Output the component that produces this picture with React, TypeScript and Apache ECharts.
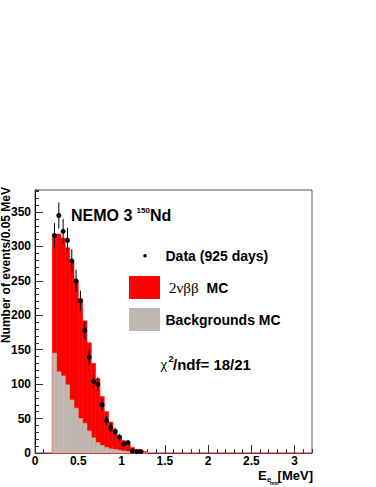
import React, { useEffect, useRef } from "react";
import * as echarts from "echarts";

// Histogram bin edges (MeV), 0.05 MeV bins
const binEdges = [
  0.2, 0.25, 0.3, 0.35, 0.4, 0.45, 0.5, 0.55, 0.6, 0.65, 0.7, 0.75, 0.8, 0.85,
  0.9, 0.95, 1.0, 1.05, 1.1, 1.15, 1.2, 1.25, 1.3,
];
// Total MC (2nubb + backgrounds), events per bin
const mcTotal = [
  318, 318, 312, 298, 278, 250, 224, 192, 160, 130, 108, 82, 60, 45, 34, 25, 18,
  13, 8, 5, 3, 2,
];
// Backgrounds MC, events per bin
const backgrounds = [
  145, 118, 112, 99, 77, 65, 50, 43, 32, 22, 15, 11, 8, 6, 5, 4, 3, 2, 2, 1, 1,
  0.5,
];
// Data points (bin centres), counts and errors
const dataE = [
  0.225, 0.275, 0.325, 0.375, 0.425, 0.475, 0.525, 0.575, 0.625, 0.675, 0.725,
  0.775, 0.825, 0.875, 0.925, 0.975, 1.025, 1.075, 1.125, 1.175, 1.225,
];
const dataCounts = [
  316, 345, 322, 309, 279, 250, 221, 178, 139, 104, 100, 70, 47, 37, 31, 23, 13,
  15, 3, 2, 2,
];
const dataErrors = [
  18, 19, 18, 18, 17, 16, 15, 13, 12, 10, 10, 8, 7, 6, 6, 5, 4, 4, 2, 1.4, 1.4,
];

const FONT = "'Liberation Sans', Arial, Helvetica, sans-serif";
const SERIF = "'Liberation Serif', 'Times New Roman', serif";
const RED = "#ff0000";
const GRAY = "#bfb8af";

const txt = (
  x: number,
  y: number,
  text: string,
  font: string,
  align: string = "left",
  extra: any = {}
) => ({
  type: "text",
  x,
  y,
  ...extra,
  style: {
    text,
    fill: "#000",
    font,
    align,
    verticalAlign: "middle",
    textAlign: align,
    textVerticalAlign: "middle",
  },
});

const App: React.FC = () => {
  const ref = useRef<HTMLDivElement>(null);

  useEffect(() => {
    if (!ref.current) return;
    const chart = echarts.init(ref.current, undefined, { renderer: "svg" });

    const histData = (vals: number[]) =>
      vals.map((v, i) => [binEdges[i], binEdges[i + 1], v]);

    const histRender = (color: string, edgeLine: boolean) =>
      (params: any, api: any) => {
        const x0 = api.value(0);
        const x1 = api.value(1);
        const v = api.value(2);
        const pTop = api.coord([x0, v]);
        const pBot = api.coord([x1, 0]);
        const children: any[] = [
          {
            type: "rect",
            shape: {
              x: pTop[0],
              y: pTop[1],
              width: pBot[0] - pTop[0],
              height: pBot[1] - pTop[1],
            },
            style: { fill: color, stroke: color, lineWidth: 0.6 },
          },
        ];
        if (edgeLine && params.dataIndex === 0) {
          children.push({
            type: "line",
            shape: { x1: pTop[0], y1: pTop[1], x2: pTop[0], y2: pBot[1] },
            style: { stroke: "#f08080", lineWidth: 1, lineDash: [2, 2] },
          });
        }
        return { type: "group", children };
      };

    const option: any = {
      animation: false,
      backgroundColor: "#ffffff",
      grid: {
        left: 35,
        top: 190,
        width: 277,
        height: 263,
        show: true,
        borderColor: "#555555",
        borderWidth: 1,
        backgroundColor: "#ffffff",
      },
      xAxis: [
        {
          type: "value",
          min: 0,
          max: 3.2,
          interval: 0.5,
          axisLine: { show: true, lineStyle: { color: "#b31b1b", width: 1 } },
          axisTick: {
            show: true,
            inside: true,
            length: 8,
            lineStyle: { color: "#333333" },
          },
          axisLabel: {
            show: true,
            margin: 2,
            showMaxLabel: false,
            color: "#000",
            fontFamily: FONT,
            fontWeight: "bold",
            fontSize: 12,
            lineHeight: 12,
          },
          splitLine: { show: false },
        },
        {
          type: "value",
          position: "bottom",
          min: 0,
          max: 3.2,
          interval: 0.1,
          axisLine: { show: false },
          axisTick: {
            show: true,
            inside: true,
            length: 4,
            lineStyle: { color: "#333333" },
          },
          axisLabel: { show: false },
          splitLine: { show: false },
        },
      ],
      yAxis: [
        {
          type: "value",
          min: 0,
          max: 382,
          interval: 50,
          axisLine: { show: true, lineStyle: { color: "#000", width: 1 } },
          axisTick: {
            show: true,
            inside: true,
            length: 8,
            lineStyle: { color: "#333333" },
          },
          axisLabel: {
            show: true,
            margin: 4,
            showMaxLabel: false,
            color: "#000",
            fontFamily: FONT,
            fontWeight: "bold",
            fontSize: 12,
          },
          splitLine: { show: false },
        },
        {
          type: "value",
          position: "left",
          min: 0,
          max: 382,
          interval: 10,
          axisLine: { show: false },
          axisTick: {
            show: true,
            inside: true,
            length: 4,
            lineStyle: { color: "#333333" },
          },
          axisLabel: { show: false },
          splitLine: { show: false },
        },
      ],
      series: [
        {
          name: "2nbb MC",
          type: "custom",
          xAxisIndex: 0,
          yAxisIndex: 0,
          renderItem: histRender(RED, false),
          data: histData(mcTotal),
          z: 2,
        },
        {
          name: "Backgrounds MC",
          type: "custom",
          xAxisIndex: 0,
          yAxisIndex: 0,
          renderItem: histRender(GRAY, true),
          data: histData(backgrounds),
          z: 3,
        },
        {
          name: "Data",
          type: "custom",
          xAxisIndex: 0,
          yAxisIndex: 0,
          renderItem: (params: any, api: any) => {
            const x = api.value(0);
            const y = api.value(1);
            const e = api.value(2);
            const pc = api.coord([x, y]);
            const pLo = api.coord([x, y - e]);
            const pHi = api.coord([x, y + e]);
            return {
              type: "group",
              children: [
                {
                  type: "line",
                  shape: { x1: pc[0], y1: pLo[1], x2: pc[0], y2: pHi[1] },
                  style: { stroke: "#000", lineWidth: 1 },
                },
                {
                  type: "circle",
                  shape: { cx: pc[0], cy: pc[1], r: 2.5 },
                  style: { fill: "#000" },
                },
              ],
            };
          },
          data: dataE.map((e, i) => [e, dataCounts[i], dataErrors[i]]),
          z: 5,
        },
      ],
      graphic: [
        // Y axis title
        txt(6, 187, "Number of events/0.05 MeV", `bold 12px ${FONT}`, "right", {
          rotation: Math.PI / 2,
        }),
        // X axis title: E_{e_min} [MeV]
        txt(258, 475, "E", `bold 13px ${FONT}`),
        txt(267, 479, "e", `bold 8px ${FONT}`),
        txt(270, 483, "min", `bold 5px ${FONT}`),
        txt(313, 475, "[MeV]", `bold 13px ${FONT}`, "right"),
        // NEMO 3 150Nd
        txt(71, 215.5, "NEMO 3", `bold 16px ${FONT}`),
        txt(136.5, 210, "150", `bold 8px ${FONT}`),
        txt(150, 215.5, "Nd", `bold 16px ${FONT}`),
        // Legend
        {
          type: "circle",
          shape: { cx: 145, cy: 255.7, r: 1.8 },
          style: { fill: "#000" },
        },
        txt(165.5, 256, "Data (925 days)", `bold 14px ${FONT}`),
        {
          type: "rect",
          shape: { x: 129, y: 276, width: 31, height: 23 },
          style: { fill: RED },
        },
        txt(169, 288, "2νββ", `15px ${SERIF}`),
        txt(206.5, 288, "MC", `bold 14px ${FONT}`),
        {
          type: "rect",
          shape: { x: 129, y: 308, width: 31, height: 23 },
          style: { fill: GRAY },
        },
        txt(165.5, 320, "Backgrounds MC", `bold 14px ${FONT}`),
        // chi2/ndf
        txt(160.5, 364, "χ", `15px ${SERIF}`),
        txt(168.5, 359, "2", `bold 9px ${FONT}`),
        txt(173, 364, "/ndf= 18/21", `bold 15px ${FONT}`),
      ],
    };

    chart.setOption(option);
    return () => {
      chart.dispose();
    };
  }, []);

  return (
    <div
      ref={ref}
      style={{
        position: "absolute",
        left: 0,
        top: 0,
        width: 376,
        height: 487,
        background: "#ffffff",
      }}
    />
  );
};

export default App;
